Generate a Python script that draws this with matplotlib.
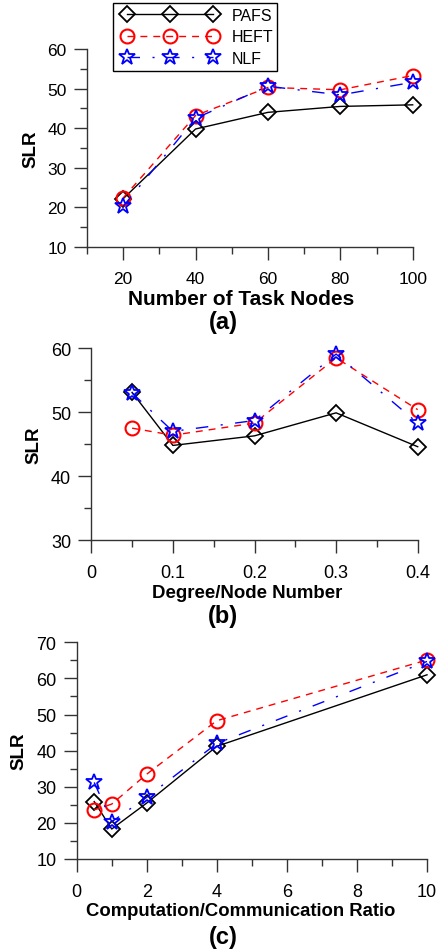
import matplotlib.pyplot as plt
import matplotlib.patches as patches
from matplotlib.ticker import MultipleLocator

plt.rcParams['font.family'] = ['Liberation Sans', 'DejaVu Sans']

# (a) number of task nodes
nodes = [20, 40, 60, 80, 100]
pafs_a = [22.2, 39.8, 44.0, 45.5, 45.9]
heft_a = [22.4, 43.2, 50.3, 49.7, 53.3]
nlf_a = [20.3, 42.5, 50.6, 48.4, 51.6]

# (b) degree / node number
degree = [0.05, 0.1, 0.2, 0.3, 0.4]
pafs_b = [53.1, 44.8, 46.3, 49.9, 44.6]
heft_b = [47.5, 46.4, 48.3, 58.5, 50.4]
nlf_b = [53.0, 47.0, 48.7, 59.1, 48.3]

# (c) computation / communication ratio
ccr = [0.5, 1, 2, 4, 10]
pafs_c = [25.9, 18.3, 25.5, 41.2, 61.0]
heft_c = [23.6, 25.2, 33.5, 48.3, 65.1]
nlf_c = [31.2, 20.3, 27.1, 42.0, 64.7]

W, H = 437, 953
fig = plt.figure(figsize=(W / 100, H / 100), dpi=100)


def px_axes(left, right, top, bottom):
    return fig.add_axes([left / W, 1 - bottom / H, (right - left) / W, (bottom - top) / H])


def draw(ax, x, pafs, heft, nlf):
    ax.plot(x, pafs, color='black', lw=1.0, ls='-', marker='D', ms=8.5,
            mfc='none', mec='black', mew=1.3, label='PAFS', clip_on=False)
    ax.plot(x, heft, color='red', lw=1.0, ls=(0, (5, 4.3)), marker='o', ms=10,
            mfc='none', mec='red', mew=1.5, label='HEFT', clip_on=False)
    ax.plot(x, nlf, color='blue', lw=1.0, ls=(0, (9, 9, 1.5, 9)), marker='*', ms=12,
            mfc='none', mec='blue', mew=1.3, label='NLF', clip_on=False)


def style(ax, xlabel, tag, xl_y, tag_y, fs_tick, fs_lab, xl_x=None):
    for s in ('top', 'right'):
        ax.spines[s].set_visible(False)
    for s in ('left', 'bottom'):
        ax.spines[s].set_color('#333333')
        ax.spines[s].set_linewidth(1.0)
    ax.tick_params(which='major', direction='out', length=9.5, width=1.0,
                   color='#333333', labelsize=fs_tick)
    ax.tick_params(which='minor', direction='out', length=4.7, width=1.0, color='#333333')
    ax.tick_params(axis='x', which='major', pad=8)
    ax.tick_params(axis='y', which='major', pad=5)
    ax.set_ylabel('SLR', fontsize=13.5, fontweight='bold', labelpad=6)
    fig.text(xl_x / W, 1 - xl_y / H, xlabel, fontsize=fs_lab, fontweight='bold',
             ha='center', va='center')
    fig.text(223 / W, 1 - tag_y / H, tag, fontsize=17, fontweight='bold',
             ha='center', va='center')


# panel (a)
ax1 = px_axes(87, 412.7, 50, 248)
draw(ax1, nodes, pafs_a, heft_a, nlf_a)
ax1.set_xlim(10, 100)
ax1.set_ylim(10, 60)
ax1.set_xticks(nodes)
ax1.xaxis.set_minor_locator(MultipleLocator(10))
ax1.yaxis.set_major_locator(MultipleLocator(10))
ax1.yaxis.set_minor_locator(MultipleLocator(5))
style(ax1, 'Number of Task Nodes', '(a)', 300, 323, 12.5, 15, xl_x=241)

# legend drawn without its own frame, box added separately
fs_leg = 11.5
fs_px = fs_leg * 100 / 72
leg = ax1.legend(loc='upper left', bbox_to_anchor=((126.7 - 0.3 * fs_px) / W, 1 - 9 / H),
                 bbox_transform=fig.transFigure, numpoints=3, fontsize=fs_leg,
                 frameon=False, borderpad=0, borderaxespad=0,
                 handlelength=(86.3 + 0.6 * fs_px) / fs_px,
                 handletextpad=(231.7 - 213 - 0.3 * fs_px) / fs_px,
                 labelspacing=0.4)
fig.patches.append(patches.Rectangle((113 / W, 1 - 72 / H), 164 / W, 68 / H,
                                     transform=fig.transFigure, fill=False,
                                     edgecolor='black', lw=1.0))

# panel (b)
ax2 = px_axes(91.3, 417.7, 349.3, 541)
draw(ax2, degree, pafs_b, heft_b, nlf_b)
ax2.set_xlim(0, 0.4)
ax2.set_ylim(30, 60)
ax2.set_xticks([0, 0.1, 0.2, 0.3, 0.4])
ax2.set_xticklabels(['0', '0.1', '0.2', '0.3', '0.4'])
ax2.xaxis.set_minor_locator(MultipleLocator(0.05))
ax2.yaxis.set_major_locator(MultipleLocator(10))
ax2.yaxis.set_minor_locator(MultipleLocator(5))
style(ax2, 'Degree/Node Number', '(b)', 594, 617, 13, 13.4, xl_x=247)

# panel (c)
ax3 = px_axes(76.7, 427, 643.3, 860)
draw(ax3, ccr, pafs_c, heft_c, nlf_c)
ax3.set_xlim(0, 10)
ax3.set_ylim(10, 70)
ax3.xaxis.set_major_locator(MultipleLocator(2))
ax3.xaxis.set_minor_locator(MultipleLocator(1))
ax3.yaxis.set_major_locator(MultipleLocator(10))
ax3.yaxis.set_minor_locator(MultipleLocator(5))
style(ax3, 'Computation/Communication Ratio', '(c)', 912, 938, 13, 13.3, xl_x=241)

fig.savefig('out.png', dpi=100)
